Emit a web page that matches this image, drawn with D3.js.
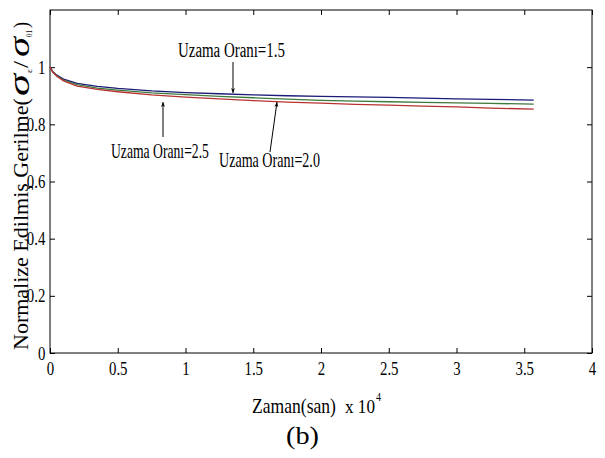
<!DOCTYPE html>
<html>
<head>
<meta charset="utf-8">
<script src="https://cdn.jsdelivr.net/npm/d3@7"></script>
<style>
  body { margin: 0; background: #fff; }
</style>
</head>
<body>
<div id="chart"></div>
<script>
  // time in units of 10^4 s
  var times = [0, 0.02, 0.05, 0.1, 0.2, 0.35, 0.5, 0.75, 1.0, 1.25, 1.5, 1.75, 2.0, 2.25, 2.5, 2.75, 3.0, 3.25, 3.57];
  var ratio15 = [1.0, 0.985, 0.972, 0.958, 0.943, 0.933, 0.926, 0.917, 0.911, 0.907, 0.903, 0.900, 0.898, 0.896, 0.894, 0.892, 0.889, 0.887, 0.885];
  var ratio20 = [1.0, 0.984, 0.970, 0.955, 0.939, 0.927, 0.920, 0.910, 0.904, 0.898, 0.893, 0.888, 0.884, 0.881, 0.879, 0.877, 0.875, 0.873, 0.871];
  var ratio25 = [1.0, 0.983, 0.968, 0.952, 0.934, 0.922, 0.914, 0.903, 0.895, 0.889, 0.883, 0.878, 0.874, 0.870, 0.867, 0.864, 0.861, 0.857, 0.853];
  var labels = ['Uzama Oranı=1.5', 'Uzama Oranı=2.0', 'Uzama Oranı=2.5'];
  var xTicks = [0, 0.5, 1, 1.5, 2, 2.5, 3, 3.5, 4];
  var yTicks = [0, 0.2, 0.4, 0.6, 0.8, 1];

(function() {
  'use strict';

  var width = 605,
    height = 458,
    left = 50,
    right = 592,
    top = 10,
    bottom = 353,
    serif = "'Liberation Serif', 'Times New Roman', serif";

  var svg = d3.select('#chart')
    .append('svg')
    .attr('width', width)
    .attr('height', height)
    .style('font-family', serif);

  var x = d3.scaleLinear().domain([0, 4]).range([left, right]);
  var y = d3.scaleLinear().domain([0, 1.2]).range([bottom, top]);

  // squeeze a text into a given length (the reference uses a narrow Times)
  function fitText(str, px, py, len, size, rotate, italic) {
    var t = svg.append('text')
      .style('font-family', serif)
      .style('font-size', size + 'px')
      .style('font-style', italic ? 'italic' : 'normal')
      .style('fill', '#000')
      .text(str);
    var w = t.node().getComputedTextLength();
    t.attr('transform', 'translate(' + px + ',' + py + ')' +
      (rotate ? ' rotate(-90)' : '') + ' scale(' + (len / w) + ',1)');
    return t;
  }

  // frame
  svg.append('rect')
    .attr('x', left).attr('y', top)
    .attr('width', right - left).attr('height', bottom - top)
    .attr('fill', 'none').attr('stroke', '#000').attr('stroke-width', 1);

  function condense(sel) {
    sel.selectAll('text')
      .style('font-family', serif)
      .style('font-size', '19px')
      .style('fill', '#000')
      .attr('transform', 'scale(0.78,1)');
  }

  var xAxis = svg.append('g')
    .attr('transform', 'translate(0,' + bottom + ')')
    .call(d3.axisBottom(x).tickValues(xTicks).tickSize(-5).tickPadding(5).tickFormat(d3.format('')));
  xAxis.select('.domain').remove();
  condense(xAxis);
  xAxis.selectAll('text').attr('dy', '0.9em');

  var xTop = svg.append('g')
    .attr('transform', 'translate(0,' + top + ')')
    .call(d3.axisTop(x).tickValues(xTicks).tickSize(-5).tickFormat(''));
  xTop.select('.domain').remove();

  var yAxis = svg.append('g')
    .attr('transform', 'translate(' + left + ',0)')
    .call(d3.axisLeft(y).tickValues(yTicks).tickSize(-5).tickPadding(6).tickFormat(d3.format('')));
  yAxis.select('.domain').remove();
  condense(yAxis);

  var yRight = svg.append('g')
    .attr('transform', 'translate(' + right + ',0)')
    .call(d3.axisRight(y).tickValues(yTicks).tickSize(-5).tickFormat(''));
  yRight.select('.domain').remove();

  svg.selectAll('.tick line').attr('stroke', '#000');

  // curves
  var series = [
    { values: ratio15, color: '#1b1b78' },
    { values: ratio20, color: '#3d7a3d' },
    { values: ratio25, color: '#b83232' }
  ];

  var line = d3.line()
    .x(function(d) { return x(d[0]); })
    .y(function(d) { return y(d[1]); });

  series.forEach(function(s) {
    svg.append('path')
      .datum(times.map(function(t, i) { return [t, s.values[i]]; }))
      .attr('fill', 'none')
      .attr('stroke', s.color)
      .attr('stroke-width', 1.3)
      .attr('d', line);
  });

  // annotations
  svg.append('defs').append('marker')
    .attr('id', 'arrow')
    .attr('viewBox', '0 0 10 10')
    .attr('refX', 10).attr('refY', 5)
    .attr('markerWidth', 5).attr('markerHeight', 9)
    .attr('orient', 'auto')
    .append('path')
    .attr('d', 'M0,1 L10,5 L0,9 L3,5 Z')
    .attr('fill', '#000');

  var notes = [
    { label: labels[0], tx: 178, ty: 57, len: 107, from: [233, 62], to: [233, 93] },
    { label: labels[2], tx: 111, ty: 158, len: 98, from: [163, 137], to: [163, 102] },
    { label: labels[1], tx: 219, ty: 167, len: 101, from: [270, 152], to: [277, 102] }
  ];

  notes.forEach(function(n) {
    fitText(n.label, n.tx, n.ty, n.len, 20);
    svg.append('line')
      .attr('x1', n.from[0]).attr('y1', n.from[1])
      .attr('x2', n.to[0]).attr('y2', n.to[1])
      .attr('stroke', '#000').attr('stroke-width', 1)
      .attr('marker-end', 'url(#arrow)');
  });

  // axis titles
  fitText('Zaman(san)', 252, 413, 84, 20);
  fitText('x 10', 345, 413, 30, 19);
  fitText('4', 376, 401, 5, 13);
  fitText('(b)', 286, 444, 33, 26);

  // y title, pieces placed along the rotated axis
  fitText('Normalize Edilmiş Gerilme(', 28, 350, 252, 20, true);
  fitText('σ', 29, 96, 22, 30, true, true);
  fitText('ε', 32, 73, 4, 9, true);
  fitText('/', 28, 68, 7, 22, true);
  fitText('σ', 29, 57, 20, 30, true, true);
  fitText('01', 32, 37, 7, 9, true);
  fitText(')', 28, 28, 6, 20, true);
})();
</script>
</body>
</html>
